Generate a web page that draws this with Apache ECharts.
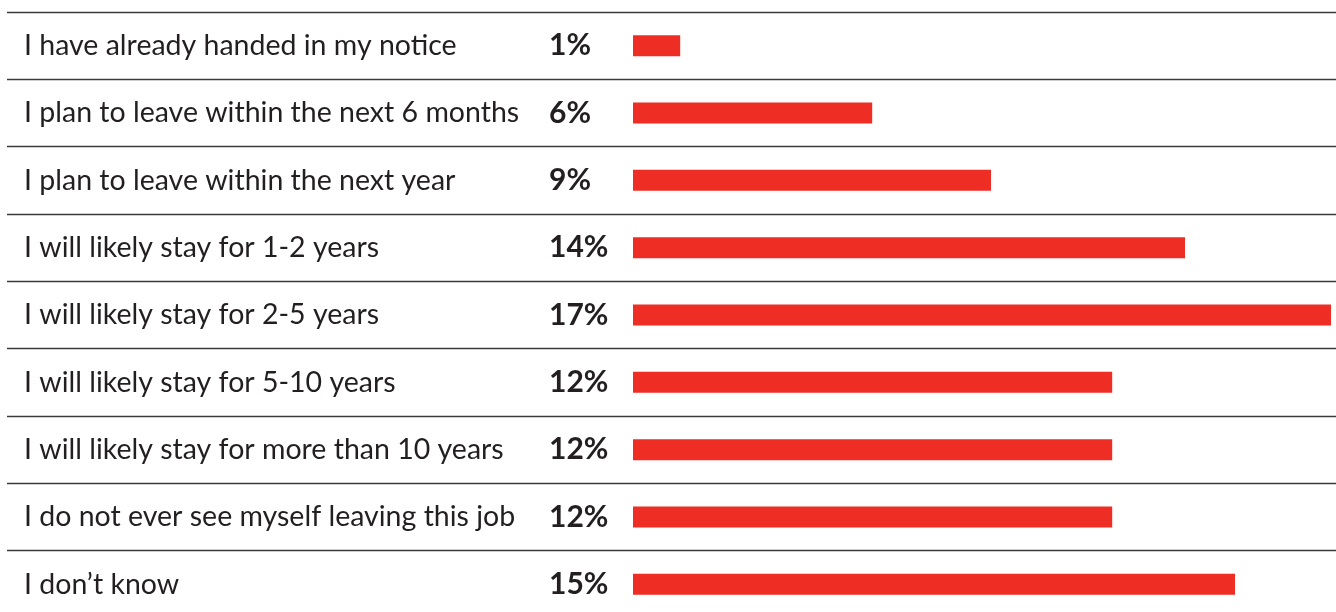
<!DOCTYPE html>
<html><head><meta charset="utf-8">
<script src="https://cdn.jsdelivr.net/npm/echarts@6/dist/echarts.min.js"></script>
<style>html,body{margin:0;padding:0;background:#fff;overflow:hidden}#c{width:1336px;height:630px}</style>
</head><body><div id="c"></div>
<script>
const categories = [
  "I have already handed in my notice",
  "I plan to leave within the next 6 months",
  "I plan to leave within the next year",
  "I will likely stay for 1-2 years",
  "I will likely stay for 2-5 years",
  "I will likely stay for 5-10 years",
  "I will likely stay for more than 10 years",
  "I do not ever see myself leaving this job",
  "I don\u2019t know"
];
const values = [1.18, 5.98, 8.95, 13.8, 17.45, 11.98, 11.98, 11.98, 15.05];
const valueLabels = ["1%", "6%", "9%", "14%", "17%", "12%", "12%", "12%", "15%"];

const FONT = "Lato";
const chart = echarts.init(document.getElementById('c'), null, {renderer: 'canvas'});
chart.setOption({
  animation: false,
  grid: [
    {left: 7, top: 12, right: 0, height: 606},
    {left: 633, top: 12, width: 700, height: 606}
  ],
  xAxis: [
    {gridIndex: 0, type: 'value', min: 0, max: 1, show: false},
    {gridIndex: 1, type: 'value', min: 0, max: 17.5, show: false}
  ],
  yAxis: [
    {gridIndex: 0, type: 'category', data: categories, inverse: true,
     axisLine: {show: false}, axisTick: {show: false},
     splitLine: {show: true, lineStyle: {color: '#3a3a3a', width: 1.3}},
     axisLabel: {inside: true, margin: 17, color: '#231f20', fontFamily: FONT, fontSize: 28.5}},
    {gridIndex: 1, type: 'category', data: valueLabels, inverse: true,
     axisLine: {show: false}, axisTick: {show: false}, splitLine: {show: false},
     axisLabel: {align: 'left', margin: 84, color: '#231f20', fontFamily: FONT, fontWeight: 'bold', fontSize: 30}}
  ],
  series: [{
    type: 'bar', xAxisIndex: 1, yAxisIndex: 1, data: values,
    barWidth: 21, itemStyle: {color: '#ee2e24'}, silent: true
  }]
});
</script></body></html>
